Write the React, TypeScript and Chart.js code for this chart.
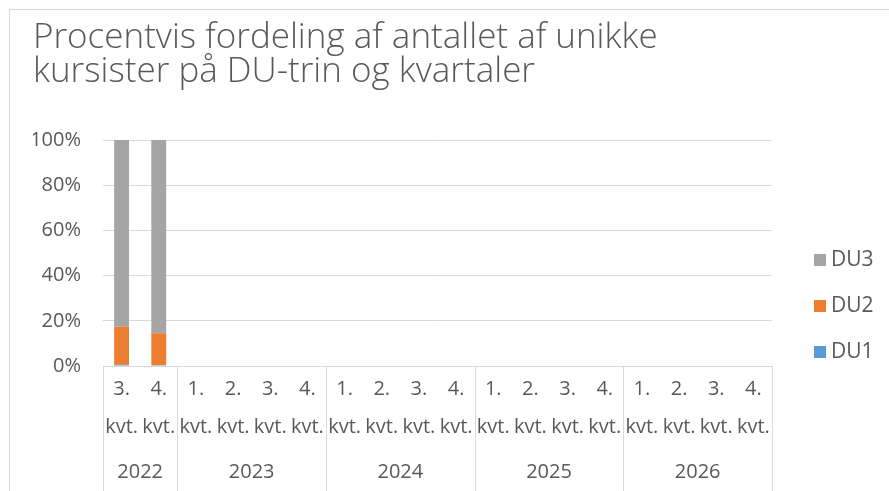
import React, { useEffect, useRef } from "react";
import { Chart, registerables } from "chart.js";

Chart.register(...registerables);

// ---- Data ----
const titleLines = [
  "Procentvis fordeling af antallet af unikke",
  "kursister på DU-trin og kvartaler",
];
const quarterLabels: string[][] = [
  ["3.", "kvt."], ["4.", "kvt."],
  ["1.", "kvt."], ["2.", "kvt."], ["3.", "kvt."], ["4.", "kvt."],
  ["1.", "kvt."], ["2.", "kvt."], ["3.", "kvt."], ["4.", "kvt."],
  ["1.", "kvt."], ["2.", "kvt."], ["3.", "kvt."], ["4.", "kvt."],
  ["1.", "kvt."], ["2.", "kvt."], ["3.", "kvt."], ["4.", "kvt."],
];
const years = ["2022", "2023", "2024", "2025", "2026"];
const quartersPerYear = [2, 4, 4, 4, 4];
const seriesNames = ["DU1", "DU2", "DU3"];
const du1 = [0.5, 0.4, null, null, null, null, null, null, null, null, null, null, null, null, null, null, null, null];
const du2 = [16.9, 14.1, null, null, null, null, null, null, null, null, null, null, null, null, null, null, null, null];
const du3 = [82.6, 85.5, null, null, null, null, null, null, null, null, null, null, null, null, null, null, null, null];
const yTickValues = [0, 20, 40, 60, 80, 100];

// ---- Styles ----
const FONT = "'Open Sans', 'Noto Sans', sans-serif";
const TEXT = "#595959";
const GRID = "#d9d9d9";
const COLORS = ["#5b9bd5", "#ed7d31", "#a5a5a5"];

const framePlugin = {
  id: "frame",
  beforeDraw(chart: any) {
    const ctx = chart.ctx;
    ctx.save();
    ctx.fillStyle = "#ffffff";
    ctx.fillRect(0, 0, chart.width, chart.height);
    ctx.strokeStyle = GRID;
    ctx.lineWidth = 1;
    ctx.beginPath();
    ctx.moveTo(9.5, chart.height + 5);
    ctx.lineTo(9.5, 9.5);
    ctx.lineTo(chart.width + 5, 9.5);
    ctx.stroke();
    ctx.restore();
  },
};

const yearAxisPlugin = {
  id: "yearAxis",
  afterDraw(chart: any) {
    const xs = chart.scales.x;
    const ctx = chart.ctx;
    const top = chart.chartArea.bottom;
    const bottom = chart.height;
    const bounds: number[] = [0];
    let acc = 0;
    quartersPerYear.forEach((n) => {
      acc += n;
      bounds.push(acc);
    });
    ctx.save();
    ctx.strokeStyle = GRID;
    ctx.lineWidth = 1;
    bounds.forEach((b) => {
      const px = Math.round(xs.getPixelForValue(b - 0.5)) + 0.5;
      ctx.beginPath();
      ctx.moveTo(px, top);
      ctx.lineTo(px, bottom);
      ctx.stroke();
    });
    ctx.fillStyle = TEXT;
    ctx.font = `20px ${FONT}`;
    ctx.textAlign = "center";
    ctx.textBaseline = "middle";
    years.forEach((y, i) => {
      const a = xs.getPixelForValue(bounds[i] - 0.5);
      const b = xs.getPixelForValue(bounds[i + 1] - 0.5);
      ctx.fillText(y, (a + b) / 2, 472);
    });
    ctx.restore();
  },
};

const legendPlugin = {
  id: "sideLegend",
  afterDraw(chart: any) {
    const ctx = chart.ctx;
    const ds = chart.data.datasets;
    ctx.save();
    ctx.font = `21px ${FONT}`;
    ctx.textAlign = "left";
    ctx.textBaseline = "middle";
    for (let i = 0; i < ds.length; i++) {
      const d = ds[ds.length - 1 - i];
      const cy = 260 + i * 46;
      ctx.fillStyle = d.backgroundColor;
      ctx.fillRect(814, cy - 6, 12, 12);
      ctx.fillStyle = TEXT;
      ctx.fillText(d.label, 831, cy);
    }
    ctx.restore();
  },
};

export default function App() {
  const ref = useRef<HTMLCanvasElement | null>(null);

  useEffect(() => {
    if (!ref.current) return;
    const series = [du1, du2, du3];
    const chart = new Chart(ref.current, {
      type: "bar",
      data: {
        labels: quarterLabels,
        datasets: series.map((s, i) => ({
          label: seriesNames[i],
          data: s,
          backgroundColor: COLORS[i],
          borderWidth: 0,
          barPercentage: 0.4,
          categoryPercentage: 1,
        })),
      },
      options: {
        responsive: false,
        animation: false,
        layout: { padding: { left: 33, right: 117, top: 0, bottom: 0 } },
        plugins: {
          legend: { display: false },
          tooltip: { enabled: false },
          title: {
            display: true,
            text: titleLines,
            align: "start",
            color: TEXT,
            font: { family: FONT, size: 35, weight: "300", lineHeight: 34 / 35 },
            padding: { top: 21, bottom: 51 },
          },
        },
        scales: {
          x: {
            stacked: true,
            offset: true,
            grid: { display: false },
            border: { display: false },
            ticks: {
              autoSkip: false,
              maxRotation: 0,
              minRotation: 0,
              padding: -4,
              color: TEXT,
              font: { family: FONT, size: 20, lineHeight: 1.9 },
            },
            afterFit: (s: any) => {
              s.height = 125;
            },
          },
          y: {
            stacked: true,
            min: 0,
            max: 100,
            border: { display: false },
            grid: { color: GRID, lineWidth: 1, drawTicks: false },
            afterBuildTicks: (s: any) => {
              s.ticks = yTickValues.map((v) => ({ value: v }));
            },
            ticks: {
              padding: 22,
              color: TEXT,
              font: { family: FONT, size: 20 },
              callback: (v: any) => `${v}%`,
            },
            afterFit: (s: any) => {
              s.width = 70;
            },
          },
        },
      },
      plugins: [framePlugin, yearAxisPlugin, legendPlugin],
    });
    return () => chart.destroy();
  }, []);

  return (
    <div style={{ position: "absolute", left: 0, top: 0, width: 889, height: 491 }}>
      <canvas ref={ref} width={889} height={491} style={{ display: "block" }} />
    </div>
  );
}
